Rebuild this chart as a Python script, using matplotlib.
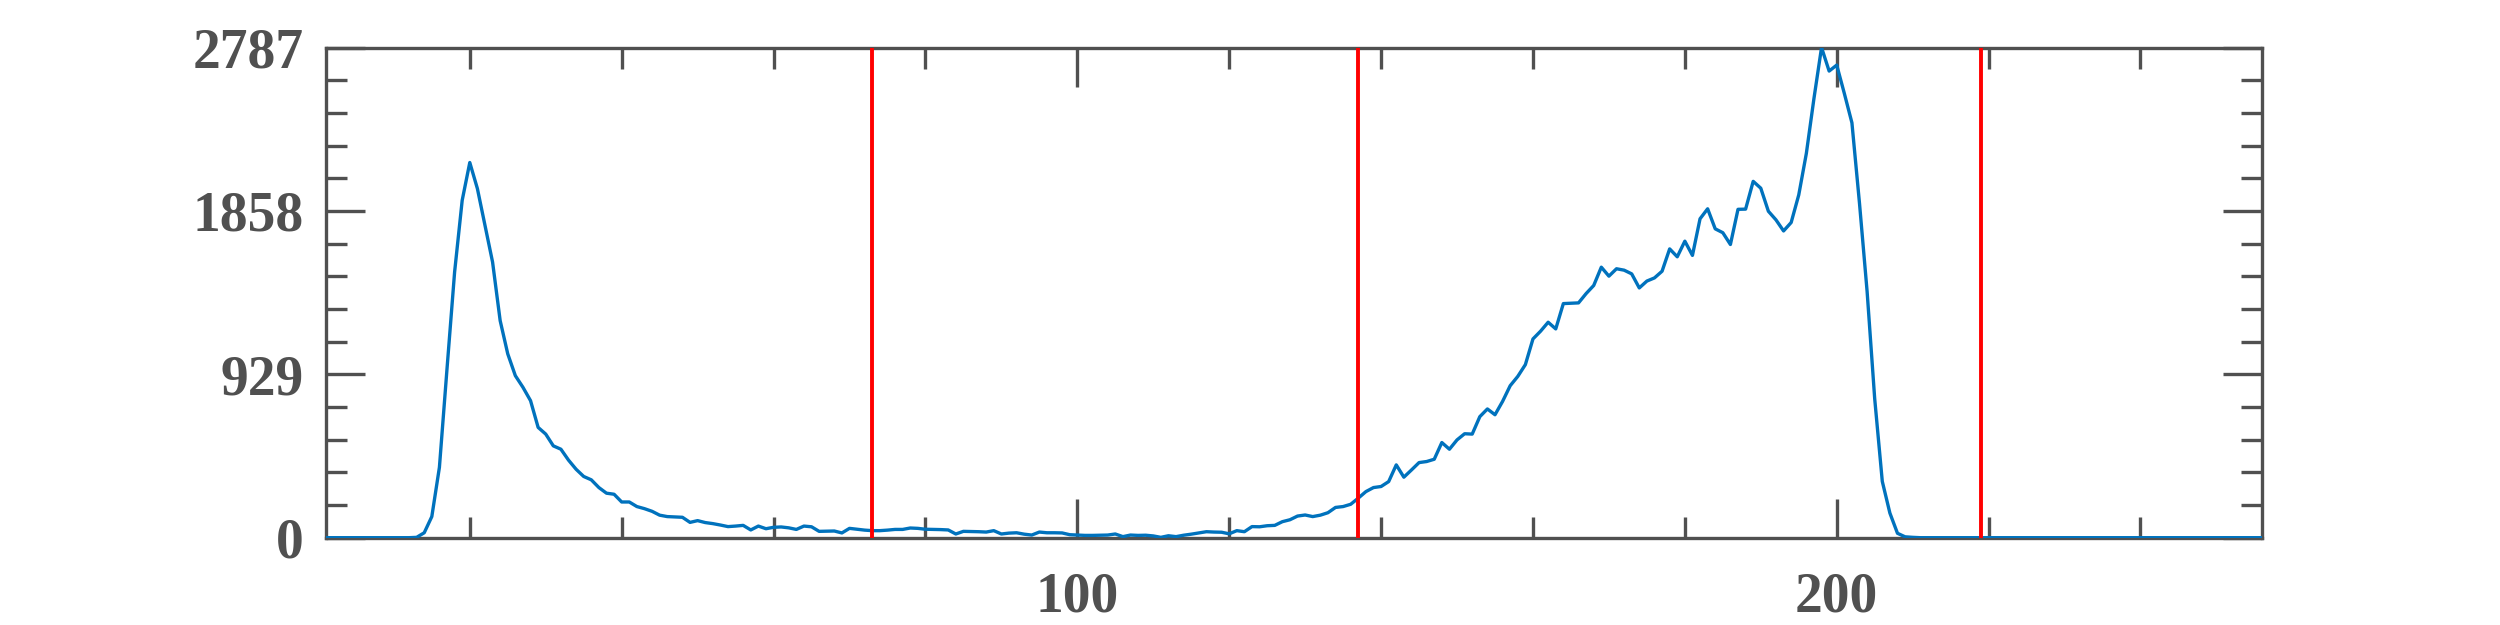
import numpy as np
import matplotlib
matplotlib.use("Agg")
import matplotlib.pyplot as plt
from matplotlib.ticker import FixedLocator

# ---- data ----
bins = list(range(1, 257))
counts = [0] * 12 + [
    2, 28, 120, 400, 960, 1510, 1918, 2133, 1985, 1776,          # 13-22
    1567, 1234, 1045, 921, 855, 779, 627, 589, 522, 503,          # 23-32
    441, 389, 348, 329, 285, 253, 247, 203, 203, 177,             # 33-42
    165, 150, 128, 120, 118, 116, 87, 97, 86, 80,                 # 43-52
    72, 63, 66, 70, 44, 66, 51, 59, 61, 56,                       # 53-62
    47, 66, 62, 36, 37, 38, 27, 53, 48, 43,                       # 63-72
    40, 40, 43, 47, 47, 55, 53, 48, 47, 46,                       # 73-82
    44, 21, 36, 35, 34, 32, 40, 21, 26, 28,                       # 83-92
    20, 15, 32, 28, 28, 27, 17, 15, 13, 13,                       # 93-102
    14, 15, 21, 6, 15, 13, 14, 10, 2, 11,                         # 103-112
    6, 14, 20, 27, 34, 32, 31, 22, 40, 34,                        # 113-122
    63, 62, 68, 70, 91, 102, 123, 129, 120, 128,                  # 123-132
    142, 172, 177, 190, 225, 262, 285, 291, 319, 414,             # 133-142
    344, 385, 427, 433, 446, 541, 503, 556, 591, 589,             # 143-152
    688, 732, 699, 775, 864, 917, 984, 1130, 1174, 1225,          # 153-162
    1187, 1331, 1333, 1335, 1388, 1434, 1538, 1487, 1529, 1521,   # 163-172
    1500, 1420, 1459, 1477, 1515, 1642, 1597, 1686, 1605, 1813,   # 173-182
    1870, 1756, 1734, 1667, 1867, 1868, 2026, 1987, 1856, 1807,   # 183-192
    1744, 1792, 1949, 2185, 2497, 2787, 2653, 2687, 2526, 2359,   # 193-202
    1900, 1400, 790, 320, 140, 25, 5, 2,                          # 203-210
] + [0] * 46

thresholds = [73, 137, 219]

x_major = [100, 200]
x_minor = [20, 40, 60, 80, 120, 140, 160, 180, 220, 240]
y_major = [0, 929, 1858, 2787]
y_minor = [185.8, 371.6, 557.4, 743.2, 1114.8, 1300.6, 1486.4, 1672.2,
           2043.8, 2229.6, 2415.4, 2601.2]

# ---- style ----
GRAY = "#505050"
fig = plt.figure(figsize=(25, 6.25), dpi=100)
ax = fig.add_axes([0.1302, 0.1397, 0.9048 - 0.1302, 0.924 - 0.1397])

ax.plot(bins, counts, color="#0072BD", lw=2.4, zorder=3)
for t in thresholds:
    ax.plot([t, t], [y_major[0], y_major[-1]], color="#FF0000", lw=2.8, zorder=4)

ax.set_xlim(1, 256)
ax.set_ylim(0, 2787)

ax.xaxis.set_major_locator(FixedLocator(x_major))
ax.xaxis.set_minor_locator(FixedLocator(x_minor))
ax.yaxis.set_major_locator(FixedLocator(y_major))
ax.yaxis.set_minor_locator(FixedLocator(y_minor))
ax.set_xticklabels([str(v) for v in x_major])
ax.set_yticklabels([str(v) for v in y_major])

for s in ax.spines.values():
    s.set_color(GRAY)
    s.set_linewidth(2.4)

ax.tick_params(which="both", direction="in", top=True, right=True,
               color=GRAY, width=2.4)
ax.tick_params(which="major", length=28)
ax.tick_params(which="minor", length=15)
ax.tick_params(axis="x", which="major", pad=24)
ax.tick_params(axis="y", which="major", pad=16)

for lab in ax.get_xticklabels() + ax.get_yticklabels():
    lab.set_fontfamily("Liberation Serif")
    lab.set_fontweight("bold")
    lab.set_fontsize(40)
    lab.set_color(GRAY)

fig.savefig("out.png", dpi=100, facecolor="white")
